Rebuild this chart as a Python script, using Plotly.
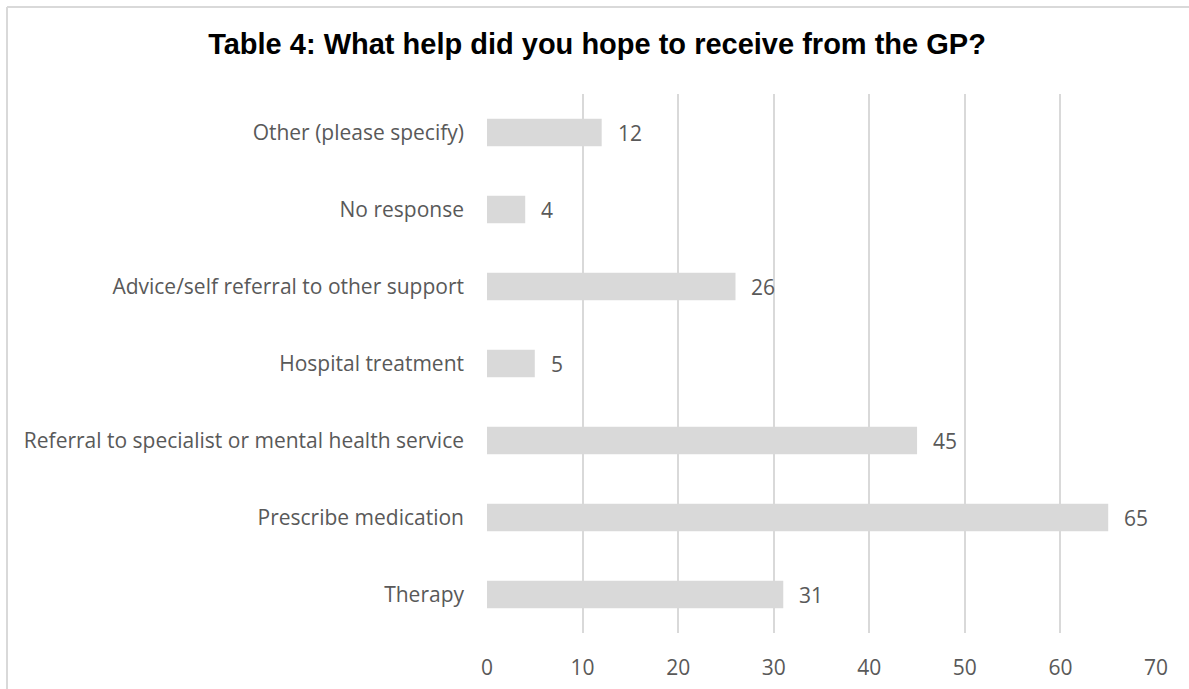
import plotly.graph_objects as go

categories = [
    "Other (please specify)",
    "No response",
    "Advice/self referral to other support",
    "Hospital treatment",
    "Referral to specialist or mental health service",
    "Prescribe medication",
    "Therapy",
]
values = [12, 4, 26, 5, 45, 65, 31]
x_ticks = [0, 10, 20, 30, 40, 50, 60, 70]

W, H = 1189, 689
L, R, T, B = 487, 33, 94, 56
pw, ph = W - L - R, H - T - B

label_font = dict(family="Open Sans, sans-serif", size=21, color="#595959")

fig = go.Figure(
    go.Bar(
        x=values,
        y=categories,
        orientation="h",
        marker=dict(color="#d9d9d9", line=dict(width=0)),
        width=0.36,
        hoverinfo="x+y",
    )
)

for c, v in zip(categories, values):
    fig.add_annotation(
        x=v, y=c, text=str(v), showarrow=False, xanchor="left", xshift=14,
        font=label_font,
    )

bx = (7 - L) / pw
by = 1 + (T - 7) / ph
fig.add_shape(type="line", xref="paper", yref="paper", x0=bx, x1=bx, y0=-1, y1=by,
              line=dict(color="#d9d9d9", width=2))
fig.add_shape(type="line", xref="paper", yref="paper", x0=bx, x1=2, y0=by, y1=by,
              line=dict(color="#d9d9d9", width=2))

fig.update_layout(
    width=W, height=H,
    margin=dict(l=L, r=R, t=T, b=B, autoexpand=False),
    paper_bgcolor="white", plot_bgcolor="white",
    showlegend=False,
    title=dict(
        text="<b>Table 4: What help did you hope to receive from the GP?</b>",
        x=597 / W, xanchor="center", xref="container", y=1 - 44 / H, yanchor="middle", yref="container",
        font=dict(family="Liberation Sans, Arial, sans-serif", size=29, color="#000000"),
    ),
    xaxis=dict(
        range=[0, 70], tickvals=x_ticks, showgrid=True, gridcolor="#d9d9d9", gridwidth=1.5,
        zeroline=False, showline=False, ticks="", tickfont=label_font, ticklabelstandoff=20,
        fixedrange=True, automargin=False,
    ),
    yaxis=dict(
        autorange="reversed", showgrid=False, zeroline=False, showline=False, ticks="",
        tickfont=label_font, ticklabelstandoff=22, fixedrange=True, automargin=False,
    ),
)

fig.write_html("out.html")
